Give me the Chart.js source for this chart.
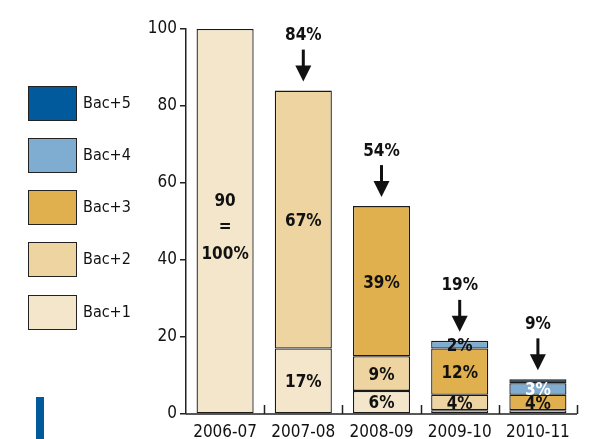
<!DOCTYPE html>
<html>
<head>
<meta charset="utf-8">
<script src="https://cdn.jsdelivr.net/npm/chart.js@4/dist/chart.umd.min.js"></script>
<style>
	html, body { margin: 0; padding: 0; background: #ffffff; }
	#wrap { width: 591px; height: 439px; position: relative; }
</style>
</head>
<body>
<div id="wrap"><canvas id="chart"></canvas></div>
<script>
// données
const categories = ['2006-07', '2007-08', '2008-09', '2009-10', '2010-11'];
const bac1 = [100, 17, 6, 1, 1];
const bac2 = [null, 67, 9, 4, null];
const bac3 = [null, null, 39, 12, 4];
const bac4 = [null, null, null, 2, 3];
const bac5 = [null, null, null, null, 1];
const seriesNames = ['Bac+1', 'Bac+2', 'Bac+3', 'Bac+4', 'Bac+5'];
const yTicks = [0, 20, 40, 60, 80, 100];
const totalLabels = [null, '84%', '54%', '19%', '9%'];

// libellés dans les segments (par série)
const bac1Labels = [['90', '=', '100%'], '17%', '6%', null, null];
const bac2Labels = [null, '67%', '9%', '4%', null];
const bac3Labels = [null, null, '39%', '12%', '4%'];
const bac4Labels = [null, null, null, '2%', '3%'];
const bac5Labels = [null, null, null, null, null];

const colors = ['#f4e6cb', '#eed4a0', '#e1b04e', '#7eadd1', '#005a9c'];
const FONT = '"Liberation Sans Narrow", "DejaVu Sans Condensed", "Open Sans", sans-serif';

const segLabels = [bac1Labels, bac2Labels, bac3Labels, bac4Labels, bac5Labels];

const barLabelPlugin = {
	id: 'barLabels',
	afterDatasetsDraw(chart) {
		const ctx = chart.ctx;
		const yScale = chart.scales.y;
		const xScale = chart.scales.x;
		ctx.save();
		ctx.textAlign = 'center';
		ctx.textBaseline = 'middle';
		ctx.font = 'bold 17px ' + FONT;

		chart.data.datasets.forEach((ds, di) => {
			const meta = chart.getDatasetMeta(di);
			meta.data.forEach((bar, i) => {
				const txt = segLabels[di][i];
				if (!txt) return;
				const cy = (bar.y + bar.base) / 2;
				// seul le 3% (2010-11) est en blanc
				ctx.fillStyle = (di === 3 && i === 4) ? '#ffffff' : '#111111';
				if (Array.isArray(txt)) {
					ctx.fillText(txt[0], bar.x, cy - 20);
					ctx.fillText(txt[1], bar.x, cy + 6);
					ctx.fillText(txt[2], bar.x, cy + 33);
				} else {
					ctx.fillText(txt, bar.x, cy + 2);
				}
			});
		});

		// totaux + flèches
		categories.forEach((c, i) => {
			if (!totalLabels[i]) return;
			let total = 0;
			[bac1, bac2, bac3, bac4, bac5].forEach(s => { total += s[i] || 0; });
			const x = xScale.getPixelForValue(i);
			const top = yScale.getPixelForValue(total);
			ctx.fillStyle = '#111111';
			ctx.fillText(totalLabels[i], x, top - 55);
			ctx.fillRect(x - 1.5, top - 41, 3, 18);
			ctx.beginPath();
			ctx.moveTo(x - 8, top - 25);
			ctx.lineTo(x + 8, top - 25);
			ctx.lineTo(x, top - 9);
			ctx.closePath();
			ctx.fill();
		});

		// axe x avec graduations vers le haut
		const area = chart.chartArea;
		ctx.strokeStyle = '#222222';
		ctx.lineWidth = 1.5;
		ctx.beginPath();
		ctx.moveTo(area.left, area.bottom);
		ctx.lineTo(area.right, area.bottom);
		const step = (area.right - area.left) / categories.length;
		for (let k = 1; k <= categories.length; k++) {
			const tx = Math.round(area.left + step * k) + 0.5;
			ctx.moveTo(tx, area.bottom);
			ctx.lineTo(tx, area.bottom - 9);
		}
		ctx.stroke();
		ctx.restore();
	}
};

const legendPlugin = {
	id: 'sideLegend',
	afterDraw(chart) {
		const ctx = chart.ctx;
		ctx.save();
		const boxTops = [295, 242, 190, 138, 86];
		seriesNames.forEach((name, i) => {
			const y = boxTops[i];
			ctx.fillStyle = colors[i];
			ctx.fillRect(28, y, 49, 35);
			ctx.strokeStyle = '#222222';
			ctx.lineWidth = 1;
			ctx.strokeRect(28.5, y + 0.5, 48, 34);
			ctx.fillStyle = '#111111';
			ctx.font = '16px ' + FONT;
			ctx.textAlign = 'left';
			ctx.textBaseline = 'middle';
			ctx.fillText(name, 83, y + 18);
		});
		// barre bleue décorative
		ctx.fillStyle = '#005a9c';
		ctx.fillRect(36, 397, 8, 42);
		ctx.restore();
	}
};

const datasets = [bac1, bac2, bac3, bac4, bac5].map((vals, i) => ({
	label: seriesNames[i],
	data: vals,
	backgroundColor: colors[i],
	borderColor: '#1a1a1a',
	borderWidth: 1.3,
	borderSkipped: false,
	categoryPercentage: 1,
	barPercentage: 0.73
}));

new Chart(document.getElementById('chart'), {
	type: 'bar',
	data: { labels: categories, datasets: datasets },
	options: {
		responsive: true,
		maintainAspectRatio: false,
		animation: false,
		layout: { padding: { left: 0, right: 14, top: 29, bottom: 0 } },
		scales: {
			x: {
				stacked: true,
				grid: { display: false },
				border: { display: false },
				ticks: { color: '#111111', font: { family: FONT, size: 17 }, padding: 0, maxRotation: 0 },
				afterFit: scale => { scale.height = 25; }
			},
			y: {
				stacked: true,
				min: 0,
				max: 100,
				afterBuildTicks: scale => { scale.ticks = yTicks.map(v => ({ value: v })); },
				grid: { drawOnChartArea: false, drawTicks: true, tickLength: 6, color: '#222222', lineWidth: 1.5 },
				border: { display: true, color: '#222222', width: 1.5 },
				ticks: { color: '#111111', font: { family: FONT, size: 17 }, padding: 3 },
				afterFit: scale => { scale.width = 186; }
			}
		},
		plugins: {
			legend: { display: false },
			tooltip: { enabled: false }
		}
	},
	plugins: [barLabelPlugin, legendPlugin]
});
</script>
</body>
</html>
